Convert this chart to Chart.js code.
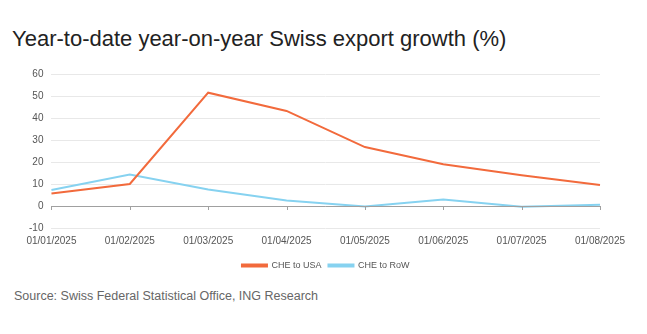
<!DOCTYPE html>
<html><head><meta charset="utf-8">
<script src="https://cdn.jsdelivr.net/npm/chart.js@4"></script>
<style>
html,body{margin:0;padding:0;background:#fff;width:647px;height:334px;overflow:hidden;font-family:"Liberation Sans",Arial,sans-serif;}
#title{position:absolute;left:12px;top:26px;font-size:22px;color:#222;white-space:nowrap;}
#source{position:absolute;left:14px;top:289px;font-size:12.5px;color:#666;white-space:nowrap;}
#wrap{position:absolute;left:0;top:60px;width:647px;height:220px;}
</style></head>
<body>
<div id="title">Year-to-date year-on-year Swiss export growth (%)</div>
<div id="wrap"><canvas id="c"></canvas></div>
<div id="source">Source: Swiss Federal Statistical Office, ING Research</div>
<script>
const categories = ["01/01/2025","01/02/2025","01/03/2025","01/04/2025","01/05/2025","01/06/2025","01/07/2025","01/08/2025"];
const cheToUSA = [5.7, 10, 51.5, 43.2, 26.8, 19, 14, 9.5];
const cheToRoW = [7.3, 14.3, 7.5, 2.5, -0.2, 3, -0.3, 0.6];
const yTicks = [-10, 0, 10, 20, 30, 40, 50, 60];

const zeroTicks = {
  id: 'zeroTicks',
  afterDatasetsDraw(chart) {
    const ctx = chart.ctx, x = chart.scales.x, y = chart.scales.y;
    const y0 = y.getPixelForValue(0);
    ctx.save();
    ctx.strokeStyle = '#a0a0a0';
    ctx.lineWidth = 1;
    ctx.beginPath();
    ctx.moveTo(x.left, Math.round(y0) + 0.5);
    ctx.lineTo(x.right, Math.round(y0) + 0.5);
    for (let i = 0; i < categories.length; i++) {
      const px = Math.round(x.getPixelForValue(i)) + 0.5;
      ctx.moveTo(px, y0);
      ctx.lineTo(px, y0 + 4);
    }
    ctx.stroke();
    ctx.restore();
  }
};

new Chart(document.getElementById('c'), {
  type: 'line',
  data: {
    labels: categories,
    datasets: [
      {label: 'CHE to USA', data: cheToUSA, borderColor: '#f26a3c', backgroundColor: '#f26a3c', borderWidth: 2, pointRadius: 0, tension: 0},
      {label: 'CHE to RoW', data: cheToRoW, borderColor: '#86d2f0', backgroundColor: '#86d2f0', borderWidth: 2, pointRadius: 0, tension: 0}
    ]
  },
  options: {
    responsive: true, maintainAspectRatio: false, animation: false,
    layout: {padding: {left: 21, right: 47, top: 8, bottom: 0}},
    plugins: {
      legend: {position: 'bottom', fullSize: false, labels: {boxWidth: 25, boxHeight: 2, color: '#555', font: {family: 'Liberation Sans', size: 9}, padding: 7}},
      tooltip: {enabled: false}
    },
    scales: {
      x: {offset: false, grid: {display: false, drawTicks: false}, border: {display: false},
          ticks: {color: '#555', font: {family: 'Liberation Sans', size: 10}, maxRotation: 0, autoSkip: false, padding: 7}},
      y: {min: -10, max: 60, afterBuildTicks: s => { s.ticks = yTicks.map(v => ({value: v})); },
          grid: {color: '#e8e8e8', drawTicks: false}, border: {display: false},
          ticks: {color: '#555', font: {family: 'Liberation Sans', size: 10}, padding: 8}}
    }
  },
  plugins: [zeroTicks]
});
</script>
</body></html>
